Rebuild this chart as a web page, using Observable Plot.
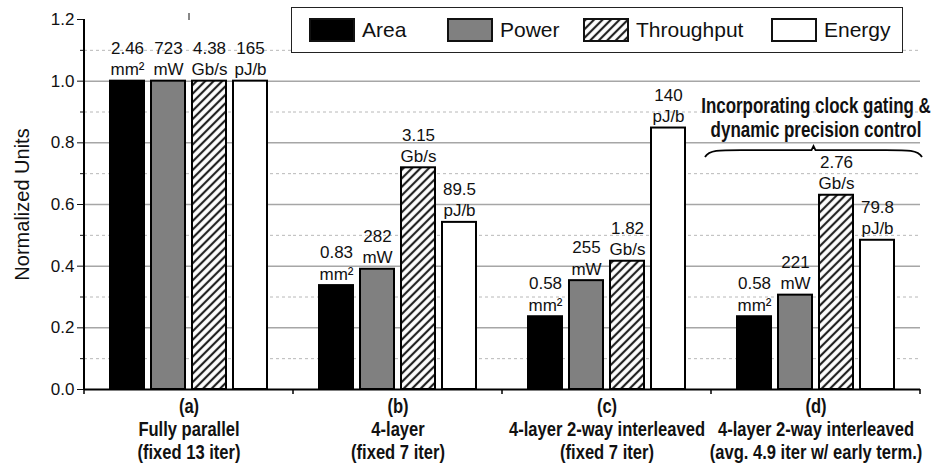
<!DOCTYPE html>
<html><head><meta charset="utf-8">
<script src="https://cdn.jsdelivr.net/npm/d3@7"></script>
<script src="https://cdn.jsdelivr.net/npm/@observablehq/plot@0.6"></script>
<style>
html,body{margin:0;padding:0;background:#fff;}
#wrap{position:relative;width:931px;height:466px;font-family:"Liberation Sans",Arial,sans-serif;}
#legend{position:absolute;left:291px;top:7px;width:612px;height:46px;border:1.5px solid #222;background:#fff;box-sizing:border-box;}
.item{position:absolute;top:0;height:100%;display:flex;align-items:center;font-size:21px;color:#111;}
.item svg{margin-right:7px;display:block;}
</style></head>
<body>
<svg width="0" height="0" style="position:absolute">
  <defs>
    <pattern id="hatch" patternUnits="userSpaceOnUse" width="6" height="6" patternTransform="rotate(45)">
      <rect width="6" height="6" fill="#fff"/>
      <line x1="3" y1="-1" x2="3" y2="7" stroke="#222" stroke-width="2.2"/>
    </pattern>
  </defs>
</svg>
<div id="wrap"><div id="legend"></div></div>
<script>
// ---- data ----
const groups = ["(a)", "(b)", "(c)", "(d)"];
const groupNames = ["Fully parallel", "4-layer", "4-layer 2-way interleaved", "4-layer 2-way interleaved"];
const groupDetails = ["(fixed 13 iter)", "(fixed 7 iter)", "(fixed 7 iter)", "(avg. 4.9 iter w/ early term.)"];
const series = ["Area", "Power", "Throughput", "Energy"];
const fills = ["#000000", "#808080", "url(#hatch)", "#ffffff"];

const areaValues = [1.0, 0.337, 0.236, 0.236];
const powerValues = [1.0, 0.390, 0.353, 0.306];
const throughputValues = [1.0, 0.719, 0.416, 0.630];
const energyValues = [1.0, 0.542, 0.848, 0.484];

const areaLabels = ["2.46\nmm²", "0.83\nmm²", "0.58\nmm²", "0.58\nmm²"];
const powerLabels = ["723\nmW", "282\nmW", "255\nmW", "221\nmW"];
const throughputLabels = ["4.38\nGb/s", "3.15\nGb/s", "1.82\nGb/s", "2.76\nGb/s"];
const energyLabels = ["165\npJ/b", "89.5\npJ/b", "140\npJ/b", "79.8\npJ/b"];

const majorTicks = [0, 0.2, 0.4, 0.6, 0.8, 1.0, 1.2];
const minorTicks = [0.1, 0.3, 0.5, 0.7, 0.9, 1.1];
const majorGrid = [0.2, 0.4, 0.6, 0.8, 1.0];

const yLabel = "Normalized Units";
const annotationText = "Incorporating clock gating &\ndynamic precision control";
const annotationGroup = "(d)";
const annotationY = 0.82;
const braceY = 0.775;

// ---- build table ----
const valueSets = [areaValues, powerValues, throughputValues, energyValues];
const labelSets = [areaLabels, powerLabels, throughputLabels, energyLabels];
const rows = [];
groups.forEach((g, i) => series.forEach((s, j) => rows.push({g, s, v: valueSets[j][i], label: labelSets[j][i]})));

const font = "'Liberation Sans', Arial, sans-serif";

const plot = Plot.plot({
  width: 931, height: 466,
  marginLeft: 82, marginRight: 10, marginTop: 19, marginBottom: 77,
  style: {fontFamily: font, fontSize: "16px", background: "white", color: "#111", overflow: "visible"},
  fx: {domain: groups, padding: 0, axis: null, label: null},
  x: {domain: series, paddingInner: 0.18, paddingOuter: 0.62, axis: null},
  y: {domain: [0, 1.2], axis: null},
  color: {domain: series, range: fills},
  marks: [
    Plot.gridY(minorTicks, {stroke: "#b8b8b8", strokeOpacity: 1, strokeDasharray: "3,3", strokeWidth: 1}),
    Plot.gridY(majorGrid, {stroke: "#a6a6a6", strokeOpacity: 1, strokeWidth: 1.5}),
    Plot.barY(rows, {fx: "g", x: "s", y: "v", fill: "s", stroke: "#000", strokeWidth: 2}),
    Plot.text(rows, {fx: "g", x: "s", y: "v", text: "label", lineAnchor: "bottom", dy: -6, fontSize: 17, lineHeight: 1.25, fill: "#111"}),
    Plot.ruleY([0], {stroke: "#000", strokeWidth: 2}),
    Plot.axisY(majorTicks, {tickSize: 7, tickPadding: 3, tickFormat: d3.format(".1f"), fontSize: 17, label: yLabel, labelAnchor: "center", labelOffset: 70, labelArrow: "none"}),
    Plot.axisY(minorTicks, {tickSize: 4, tickFormat: () => "", label: null}),
    Plot.axisFx({tickSize: 7, tickFormat: () => "", label: null}),
    Plot.text(groups, {fx: d => d, text: (d, i) => `${d}\n${groupNames[i]}\n${groupDetails[i]}`, frameAnchor: "bottom", lineAnchor: "top", dy: 7, fontWeight: "bold", fontSize: 19.5, lineHeight: 1.19, fill: "#111"}),
    Plot.text([annotationGroup], {fx: d => d, y: [annotationY], text: [annotationText], lineAnchor: "bottom", fontWeight: "bold", fontSize: 22, lineHeight: 1.06, fill: "#111"})
  ]
});

document.getElementById("wrap").prepend(plot);
plot.style.position = "absolute"; plot.style.left = "0"; plot.style.top = "0";

// ---- post-process ----
const svg = d3.select(plot);
const fx = plot.scale("fx"), y = plot.scale("y");
const bw = fx.bandwidth;
const x0 = fx.apply(groups[0]);
// y-axis title size
svg.selectAll("text").filter(function () { return this.textContent === yLabel; }).attr("font-size", 20);
// left axis line
svg.append("line").attr("x1", x0).attr("x2", x0).attr("y1", y.apply(0)).attr("y2", y.apply(1.2)).attr("stroke", "#000").attr("stroke-width", 2);
// boundary ticks on x axis
for (let i = 0; i <= groups.length; i++) {
  const xx = x0 + i * bw;
  svg.append("line").attr("x1", xx).attr("x2", xx).attr("y1", y.apply(0)).attr("y2", y.apply(0) + 5).attr("stroke", "#000").attr("stroke-width", 1.5);
}
// brace over group (d)
{
  const bx0 = fx.apply(annotationGroup) - 6, bx1 = fx.apply(annotationGroup) + bw + 2;
  const by = y.apply(braceY), be = by + 7, mid = (bx0 + bx1) / 2;
  const p = `M${bx0},${be} C${bx0 + 4},${by} ${bx0 + 14},${by} ${bx0 + 36},${by} L${mid - 2},${by} L${mid},${by - 4} L${mid + 2},${by} L${bx1 - 36},${by} C${bx1 - 14},${by} ${bx1 - 4},${by} ${bx1},${be}`;
  svg.append("path").attr("d", p).attr("fill", "none").attr("stroke", "#000").attr("stroke-width", 1.8);
}
// condense bold texts (narrow typeface look)
svg.selectAll("g[font-weight='bold']").each(function () {
  const fs = parseFloat(this.getAttribute("font-size"));
  const k = fs > 20 ? 0.77 : 0.85;
  d3.select(this).selectAll("text").each(function () {
    const t = this.getAttribute("transform") || "";
    this.setAttribute("transform", t + ` scale(${k},1)`);
  });
});

// ---- legend ----
const legend = document.getElementById("legend");
const legendX = [17, 155, 291, 479];
series.forEach((s, i) => {
  const item = document.createElement("div");
  item.className = "item";
  item.style.left = legendX[i] + "px";
  item.innerHTML = `<svg width="46" height="24"><rect x="1" y="1" width="44" height="22" fill="${fills[i]}" stroke="#111" stroke-width="2"/></svg><span>${s}</span>`;
  legend.appendChild(item);
});
</script>
</body></html>
